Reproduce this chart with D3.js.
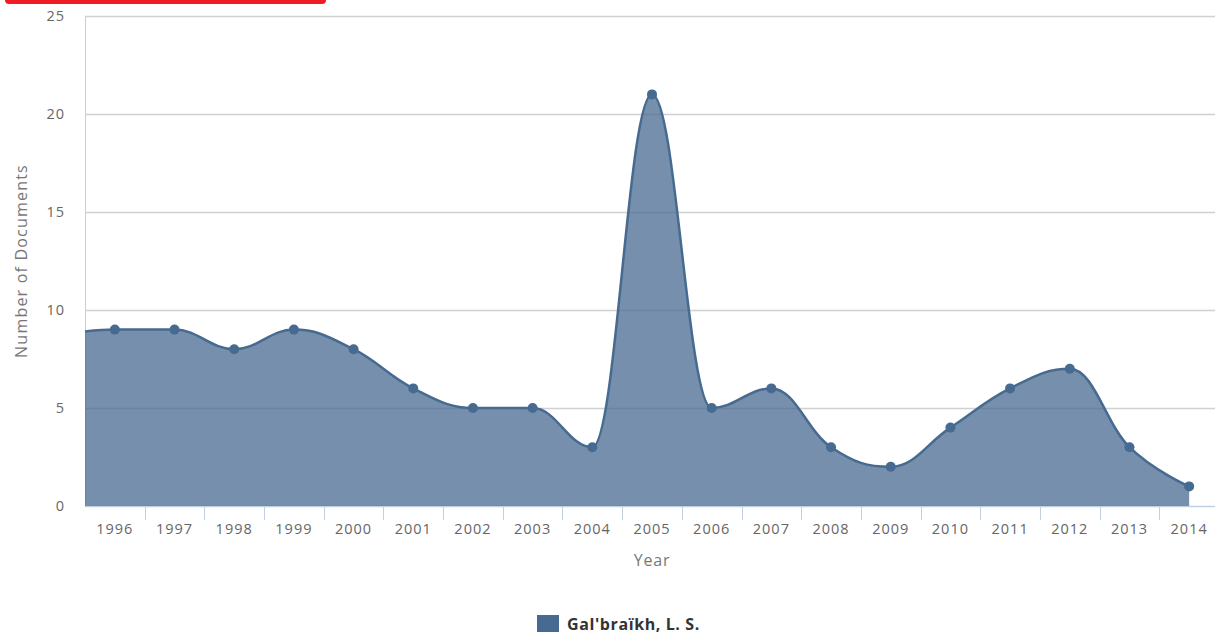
<!DOCTYPE html>
<html>
<head>
<meta charset="utf-8">
<script src="https://cdn.jsdelivr.net/npm/d3@7"></script>
<style>
  html, body { margin: 0; padding: 0; background: #fff; overflow: hidden; }
  svg text { font-family: "Open Sans", "Noto Sans", sans-serif; }
</style>
</head>
<body>
<svg id="chart" width="1240" height="634"></svg>
<script>
// Number of documents per year
var years = ["1996","1997","1998","1999","2000","2001","2002","2003","2004","2005",
             "2006","2007","2008","2009","2010","2011","2012","2013","2014"];
var docs = [9, 9, 8, 9, 8, 6, 5, 5, 3, 21, 5, 6, 3, 2, 4, 6, 7, 3, 1];
var edgeValue = 8.9;           // curve value where it enters the plot on the left
var yTicks = [0, 5, 10, 15, 20, 25];
var seriesName = "Gal'braïkh, L. S.";

var svg = d3.select("#chart");
var margin = {top: 16, right: 21, bottom: 128, left: 85},
    width = +svg.attr("width") - margin.left - margin.right,
    height = +svg.attr("height") - margin.top - margin.bottom;

var color = "#476a90";

// red bar at the very top
svg.append("rect")
    .attr("x", 5).attr("y", -6).attr("width", 321).attr("height", 10)
    .attr("rx", 4).attr("fill", "#ee1c25");

var g = svg.append("g").attr("transform", "translate(" + margin.left + "," + margin.top + ")");

var x = d3.scaleBand().domain(years).range([0, width]);
var y = d3.scaleLinear().domain([0, 25]).range([height, 0]);

// grid
g.selectAll(".grid").data(yTicks).enter().append("line")
    .attr("x1", 0).attr("x2", width)
    .attr("y1", function(d) { return Math.round(y(d)) + 0.5; })
    .attr("y2", function(d) { return Math.round(y(d)) + 0.5; })
    .attr("stroke", "#d0d0d0").attr("stroke-width", 1.5);

// y axis line
g.append("line").attr("x1", 0.5).attr("x2", 0.5).attr("y1", 0).attr("y2", height)
    .attr("stroke", "#c0d0e0");

// y labels
g.selectAll(".ylab").data(yTicks).enter().append("text")
    .attr("x", -20).attr("y", function(d) { return y(d) + 5; })
    .attr("text-anchor", "end").attr("fill", "#666")
    .style("font-size", "14.5px").style("letter-spacing", "1px")
    .text(function(d) { return d; });

// x axis
g.append("line").attr("x1", 0).attr("x2", width)
    .attr("y1", height + 0.5).attr("y2", height + 0.5).attr("stroke", "#c0d0e0");
g.selectAll(".xtick").data(years.slice(1)).enter().append("line")
    .attr("x1", function(d) { return Math.round(x(d)) + 0.5; })
    .attr("x2", function(d) { return Math.round(x(d)) + 0.5; })
    .attr("y1", height).attr("y2", height + 14)
    .attr("stroke", "#c0d0e0");
g.selectAll(".xlab").data(years).enter().append("text")
    .attr("x", function(d) { return x(d) + x.bandwidth() / 2; })
    .attr("y", height + 28)
    .attr("text-anchor", "middle").attr("fill", "#666")
    .style("font-size", "14.5px").style("letter-spacing", "1px")
    .text(function(d) { return d; });

// axis titles
g.append("text")
    .attr("x", width / 2).attr("y", height + 60)
    .attr("text-anchor", "middle").attr("fill", "#777")
    .style("font-size", "16px").style("letter-spacing", "0.8px")
    .text("Year");
g.append("text")
    .attr("transform", "translate(" + (-58) + "," + (height / 2) + ") rotate(-90)")
    .attr("text-anchor", "middle").attr("fill", "#777")
    .style("font-size", "16px").style("letter-spacing", "1.2px")
    .text("Number of Documents");

// points in pixel space (leading point at the plot edge)
var pts = [{px: 0, py: y(edgeValue)}].concat(years.map(function(yr, i) {
  return {px: x(yr) + x.bandwidth() / 2, py: y(docs[i])};
}));

// Highcharts-style spline (smoothing 1.5 with vertical correction)
function splinePath(p) {
  var s = 1.5, den = s + 1, d = "M" + p[0].px + "," + p[0].py;
  var prevR = null;
  for (var i = 1; i < p.length; i++) {
    var pt = p[i], last = p[i - 1], next = p[i + 1];
    var lx = pt.px, ly = pt.py, rx = null, ry = null;
    if (next) {
      lx = (s * pt.px + last.px) / den; ly = (s * pt.py + last.py) / den;
      rx = (s * pt.px + next.px) / den; ry = (s * pt.py + next.py) / den;
      var corr = ((ry - ly) * (rx - pt.px)) / (rx - lx) + pt.py - ry;
      ly += corr; ry += corr;
      if (ly > last.py && ly > pt.py) { ly = Math.max(last.py, pt.py); ry = 2 * pt.py - ly; }
      else if (ly < last.py && ly < pt.py) { ly = Math.min(last.py, pt.py); ry = 2 * pt.py - ly; }
      if (ry > next.py && ry > pt.py) { ry = Math.max(next.py, pt.py); ly = 2 * pt.py - ry; }
      else if (ry < next.py && ry < pt.py) { ry = Math.min(next.py, pt.py); ly = 2 * pt.py - ry; }
    }
    var c1x = prevR ? prevR[0] : last.px, c1y = prevR ? prevR[1] : last.py;
    d += "C" + c1x + "," + c1y + " " + lx + "," + ly + " " + pt.px + "," + pt.py;
    prevR = rx === null ? null : [rx, ry];
  }
  return d;
}

var linePath = splinePath(pts);
var lastPt = pts[pts.length - 1];
var areaPath = linePath + "L" + lastPt.px + "," + y(0) + "L" + pts[0].px + "," + y(0) + "Z";

g.append("path").attr("d", areaPath)
    .attr("fill", color).attr("fill-opacity", 0.75);
g.append("path").attr("d", linePath)
    .attr("fill", "none").attr("stroke", color).attr("stroke-width", 2.5);

g.selectAll(".dot").data(pts.slice(1)).enter().append("circle")
    .attr("cx", function(d) { return d.px; })
    .attr("cy", function(d) { return d.py; })
    .attr("r", 5).attr("fill", color);

// legend
var leg = svg.append("g").attr("transform", "translate(537,615)");
leg.append("rect").attr("width", 22).attr("height", 17).attr("fill", color);
leg.append("text").attr("x", 30).attr("y", 15)
    .attr("fill", "#333").style("font-size", "16px").style("font-weight", "bold")
    .style("letter-spacing", "0.6px")
    .text(seriesName);
</script>
</body>
</html>
